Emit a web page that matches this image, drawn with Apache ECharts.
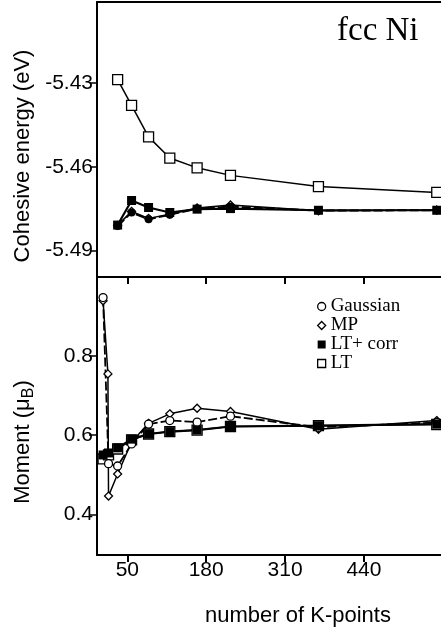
<!DOCTYPE html>
<html lang="en">
<head>
    <meta charset="UTF-8">
    <title>fcc Ni</title>
    <script src="https://cdn.jsdelivr.net/npm/echarts@6/dist/echarts.min.js"></script>
    <style>html,body{margin:0;padding:0;background:#fff;}</style>
</head>
<body>
    <div id="main" style="width: 441px;height:635px;"></div>
    <script type="text/javascript">
        // number of k-points
        var kEnergy = [34, 57, 85, 120, 165, 220, 365, 560];
        var kMoment = [10, 19, 34, 57, 85, 120, 165, 220, 365, 560];
        var kMomentMP = [10, 18, 19, 34, 57, 85, 120, 165, 220, 365, 560];
        // cohesive energy (eV), top panel
        var eLT = [-5.4288, -5.4380, -5.4493, -5.4569, -5.4604, -5.4631, -5.4671, -5.4692];
        var eLTcorr = [-5.4809, -5.4721, -5.4746, -5.4764, -5.4752, -5.4750, -5.4756, -5.4756];
        var eGaussian = [-5.4812, -5.4764, -5.4788, -5.4772, -5.4750, -5.4743, -5.4757, -5.4756];
        var eMP = [-5.4810, -5.4760, -5.4785, -5.4770, -5.4748, -5.4737, -5.4758, -5.4755];
        // moment (mu_B), bottom panel
        var mGaussian = [0.948, 0.528, 0.522, 0.578, 0.628, 0.637, 0.633, 0.648, 0.620, 0.632];
        var mMP = [0.940, 0.755, 0.446, 0.502, 0.583, 0.630, 0.654, 0.668, 0.660, 0.615, 0.637];
        var mLTcorr = [0.550, 0.555, 0.568, 0.590, 0.603, 0.609, 0.613, 0.622, 0.624, 0.628];
        var mLT = [0.540, 0.550, 0.565, 0.588, 0.603, 0.609, 0.613, 0.622, 0.624, 0.627];
        // tick labels
        var kTicks = [50, 180, 310, 440];
        var energyTicks = [-5.49, -5.46, -5.43];
        var momentTicks = [0.4, 0.6, 0.8];
        var names = ['Gaussian', 'MP', 'LT+ corr', 'LT'];

        function pairs(xs, ys) {
            return xs.map(function (x, i) { return [x, ys[i]]; });
        }

        // one line series
        function line(name, gi, data, symbol, size, filled, width, dashed) {
            return {
                name: name,
                type: 'line',
                xAxisIndex: gi,
                yAxisIndex: gi,
                data: data,
                symbol: symbol,
                symbolSize: size,
                showAllSymbol: true,
                itemStyle: {
                    color: filled ? '#000' : '#fff',
                    borderColor: '#000',
                    borderWidth: filled ? 0 : 1.3
                },
                lineStyle: {
                    color: '#000',
                    width: width,
                    type: dashed ? [9, 3] : 'solid'
                },
                emphasis: {disabled: true}
            };
        }

        var tickFont = {color: '#000', fontSize: 21, fontFamily: 'Liberation Sans'};
        var axisLine = {show: true, lineStyle: {color: '#000', width: 2}};

        var myChart = echarts.init(document.getElementById('main'));
        var option = {
            animation: false,
            backgroundColor: '#fff',
            grid: [
                {left: 97, top: 2, right: 0, height: 275},
                {left: 97, top: 277, right: 0, height: 278}
            ],
            xAxis: [
                {
                    gridIndex: 0, type: 'value', min: 0, max: 567,
                    axisLine: axisLine,
                    axisTick: {show: true, inside: false, length: 7, customValues: kTicks,
                        lineStyle: {color: '#000', width: 2}},
                    axisLabel: {show: false},
                    splitLine: {show: false}
                },
                {
                    gridIndex: 1, type: 'value', min: 0, max: 567,
                    axisLine: axisLine,
                    axisTick: {show: true, inside: false, length: 7, customValues: kTicks,
                        lineStyle: {color: '#000', width: 2}},
                    axisLabel: Object.assign({customValues: kTicks, margin: 5}, tickFont),
                    splitLine: {show: false}
                },
                {
                    gridIndex: 0, type: 'value', position: 'top', min: 0, max: 567,
                    axisLine: axisLine,
                    axisTick: {show: false},
                    axisLabel: {show: false},
                    splitLine: {show: false}
                }
            ],
            yAxis: [
                {
                    gridIndex: 0, type: 'value', min: -5.4995, max: -5.401,
                    axisLine: axisLine,
                    axisTick: {show: true, inside: false, length: 7, customValues: energyTicks,
                        lineStyle: {color: '#000', width: 1.5}},
                    axisLabel: Object.assign({customValues: energyTicks, margin: 4}, tickFont),
                    splitLine: {show: false}
                },
                {
                    gridIndex: 1, type: 'value', min: 0.297, max: 1.0,
                    axisLine: axisLine,
                    axisTick: {show: true, inside: false, length: 8, customValues: momentTicks,
                        lineStyle: {color: '#000', width: 1.5}},
                    axisLabel: Object.assign({customValues: momentTicks, margin: 4}, tickFont),
                    splitLine: {show: false}
                }
            ],
            legend: {
                orient: 'vertical',
                left: 312,
                top: 292,
                itemWidth: 8,
                itemHeight: 8,
                itemGap: 0,
                selectedMode: false,
                textStyle: {color: '#000', fontSize: 19, fontFamily: 'Liberation Serif'},
                data: [
                    {name: names[0], icon: 'circle', itemStyle: {color: '#fff', borderColor: '#000', borderWidth: 1.3}},
                    {name: names[1], icon: 'diamond', itemStyle: {color: '#fff', borderColor: '#000', borderWidth: 1.3}},
                    {name: names[2], icon: 'rect', itemStyle: {color: '#000', borderWidth: 0}},
                    {name: names[3], icon: 'rect', itemStyle: {color: '#fff', borderColor: '#000', borderWidth: 1.3}}
                ]
            },
            graphic: [
                {type: 'text', left: 337, top: 15,
                    style: {text: 'fcc Ni', font: '33px "Liberation Serif"', fill: '#000'}},
                {type: 'text', x: 23, y: 156, rotation: Math.PI / 2,
                    style: {text: 'Cohesive energy (eV)', font: '22px "Liberation Sans"', fill: '#000',
                        textAlign: 'center', textVerticalAlign: 'middle', align: 'center', verticalAlign: 'middle'}},
                {type: 'text', x: 24, y: 442, rotation: Math.PI / 2,
                    style: {
                        text: '{a|Moment (μ}{b|B}{a|)}', fill: '#000',
                        textAlign: 'center', textVerticalAlign: 'middle', align: 'center', verticalAlign: 'middle',
                        rich: {
                            a: {fontSize: 22, fontFamily: 'Liberation Sans', fill: '#000', verticalAlign: 'top'},
                            b: {fontSize: 16, fontFamily: 'Liberation Sans', fill: '#000', verticalAlign: 'bottom', padding: [9, 0, 0, 0]}
                        }
                    }},
                {type: 'text', x: 298, y: 616,
                    style: {text: 'number of K-points', font: '22px "Liberation Sans"', fill: '#000',
                        textAlign: 'center', textVerticalAlign: 'middle', align: 'center', verticalAlign: 'middle'}}
            ],
            series: [
                line(names[3], 0, pairs(kEnergy, eLT), 'rect', 10, false, 1.5, false),
                line(names[1], 0, pairs(kEnergy, eMP), 'diamond', 8, false, 1.5, false),
                line(names[0], 0, pairs(kEnergy, eGaussian), 'circle', 8, true, 2, true),
                line(names[2], 0, pairs(kEnergy, eLTcorr), 'rect', 9, true, 2.2, false),
                line(names[3], 1, pairs(kMoment, mLT), 'rect', 10, false, 1.5, false),
                line(names[1], 1, pairs(kMomentMP, mMP), 'diamond', 8, false, 1.5, false),
                line(names[0], 1, pairs(kMoment, mGaussian), 'circle', 8, false, 1.8, true),
                line(names[2], 1, pairs(kMoment, mLTcorr), 'rect', 9, true, 2.2, false)
            ]
        };
        myChart.setOption(option);
    </script>
</body>
</html>
